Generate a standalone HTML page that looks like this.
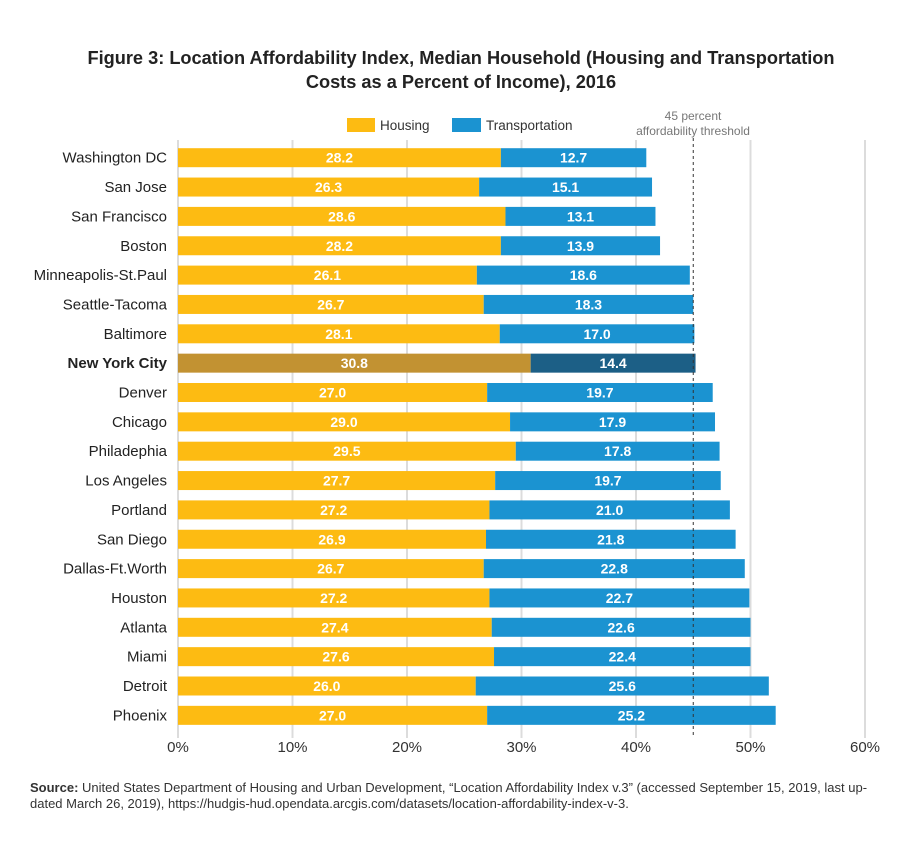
<!DOCTYPE html>
<html><head><meta charset="utf-8"><style>
body{margin:0;background:#fff;font-family:"Liberation Sans",sans-serif;}
svg text{font-family:"Liberation Sans",sans-serif;}
</style></head><body>
<svg id="chart" width="903" height="837" xmlns="http://www.w3.org/2000/svg">
<text x="461" y="64" text-anchor="middle" font-size="18.2" font-weight="bold" fill="#222">Figure 3: Location Affordability Index, Median Household (Housing and Transportation</text>
<text x="461" y="88" text-anchor="middle" font-size="18.2" font-weight="bold" fill="#222">Costs as a Percent of Income), 2016</text>
<g>
<rect x="347" y="118" width="28" height="14" fill="#FDBB12"/>
<text x="380" y="130" font-size="13.5" fill="#333">Housing</text>
<rect x="452" y="118" width="29" height="14" fill="#1B93D1"/>
<text x="486" y="130" font-size="13.5" fill="#333">Transportation</text>
</g>
<text x="693" y="120" text-anchor="middle" font-size="12" fill="#777">45 percent</text>
<text x="693" y="135" text-anchor="middle" font-size="12" fill="#777">affordability threshold</text>
<g id="grid"></g><g id="bars"></g><g id="labels"></g>
<text x="30" y="792" font-size="13" fill="#333"><tspan font-weight="bold">Source:</tspan> United States Department of Housing and Urban Development, “Location Affordability Index v.3” (accessed September 15, 2019, last up-</text>
<text x="30" y="808" font-size="13" fill="#333">dated March 26, 2019), https://hudgis-hud.opendata.arcgis.com/datasets/location-affordability-index-v-3.</text>
</svg>
<script>
const cities=["Washington DC","San Jose","San Francisco","Boston","Minneapolis-St.Paul","Seattle-Tacoma","Baltimore","New York City","Denver","Chicago","Philadephia","Los Angeles","Portland","San Diego","Dallas-Ft.Worth","Houston","Atlanta","Miami","Detroit","Phoenix"];
const housing=[28.2,26.3,28.6,28.2,26.1,26.7,28.1,30.8,27.0,29.0,29.5,27.7,27.2,26.9,26.7,27.2,27.4,27.6,26.0,27.0];
const transportation=[12.7,15.1,13.1,13.9,18.6,18.3,17.0,14.4,19.7,17.9,17.8,19.7,21.0,21.8,22.8,22.7,22.6,22.4,25.6,25.2];
const ticks=[0,10,20,30,40,50,60];
const threshold=45;
const highlight="New York City";
const NS="http://www.w3.org/2000/svg";
const x0=178,pxPer=11.45,y0=157.7,step=29.35,bh=19;
const X=v=>x0+v*pxPer;
const Y=i=>y0+i*step;
function mk(t,a,p){const e=document.createElementNS(NS,t);for(const k in a)e.setAttribute(k,a[k]);p.appendChild(e);return e;}
const g=document.getElementById('grid'),b=document.getElementById('bars'),l=document.getElementById('labels');
ticks.forEach(t=>{
 const ln=mk('line',{x1:X(t),x2:X(t),y1:140,y2:738,stroke:'#dcdcdc','stroke-width':2},g);
 
 
 const tx=mk('text',{x:X(t),y:752,'text-anchor':'middle','font-size':15,fill:'#333'},g);
 tx.textContent=t+'%';
 
 
});
cities.forEach((c,i)=>{
 const hl=c===highlight,yc=Y(i);
 const lb=mk('text',{x:167,y:yc+5,'text-anchor':'end','font-size':15,fill:'#222','font-weight':hl?'bold':'normal'},l);
 lb.textContent=c;
 
 
 const h=housing[i],t=transportation[i];
 const r1=mk('rect',{x:X(0),y:yc-bh/2,width:X(h)-X(0),height:bh,fill:hl?'#C29232':'#FDBB12'},b);
 
 
 const r2=mk('rect',{x:X(h),y:yc-bh/2,width:X(h+t)-X(h),height:bh,fill:hl?'#1C5F86':'#1B93D1'},b);
 
 
 const v1=mk('text',{x:(X(0)+X(h))/2,y:yc+5,'text-anchor':'middle','font-size':14,'font-weight':'bold',fill:'#fff'},l);
 v1.textContent=h.toFixed(1);
 
 
 const v2=mk('text',{x:(X(h)+X(h+t))/2,y:yc+5,'text-anchor':'middle','font-size':14,'font-weight':'bold',fill:'#fff'},l);
 v2.textContent=t.toFixed(1);
 
 
});
const th=mk('line',{x1:X(threshold),x2:X(threshold),y1:138,y2:738,stroke:'#333','stroke-width':1,'stroke-dasharray':'3,3'},l);


</script>
</body></html>
